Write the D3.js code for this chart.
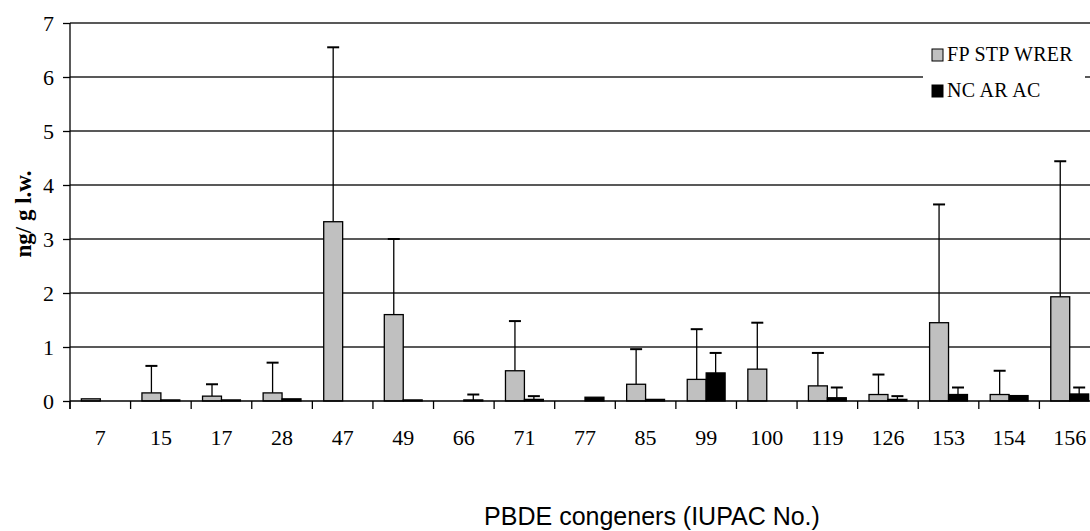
<!DOCTYPE html>
<html>
<head>
<meta charset="utf-8">
<script src="https://cdn.jsdelivr.net/npm/d3@7"></script>
<style>
body { margin: 0; background: #fff; }
svg { display: block; }
</style>
</head>
<body>
<svg id="chart" width="1090" height="531"></svg>
<script>
// 数据
var congeners = ["7","15","17","28","47","49","66","71","77","85","99","100","119","126","153","154","156"];
var seriesNames = ["FP STP WRER", "NC AR AC"];
var fpMean = [0.04, 0.15, 0.09, 0.15, 3.32, 1.60, 0, 0.56, 0, 0.31, 0.40, 0.59, 0.28, 0.12, 1.45, 0.12, 1.93];
var fpErr  = [null, 0.65, 0.31, 0.71, 6.55, 3.00, null, 1.48, null, 0.96, 1.33, 1.45, 0.89, 0.49, 3.64, 0.56, 4.44];
var ncMean = [0, 0.02, 0.02, 0.04, 0, 0.02, 0.02, 0.03, 0.07, 0.03, 0.52, 0, 0.06, 0.03, 0.12, 0.10, 0.13];
var ncErr  = [null, null, null, null, null, null, 0.12, 0.09, null, null, 0.89, null, 0.25, 0.09, 0.25, null, 0.25];
var yTicks = [0, 1, 2, 3, 4, 5, 6, 7];
var colors = ["#c0c0c0", "#000000"];

var serif = "'Liberation Serif', 'Times New Roman', serif";
var svg = d3.select("#chart");
var mLeft = 70, mRight = 1100, mTop = 23, mBottom = 401;

var x = d3.scaleBand().domain(congeners).range([mLeft, mRight]).padding(0);
var xs = d3.scaleBand().domain(seriesNames).range([0, x.bandwidth()]).paddingInner(0).paddingOuter(0.6);
var y = d3.scaleLinear().domain([0, 7]).range([mBottom, mTop]);

// 网格线
svg.append("g").selectAll("line").data(yTicks.filter(function(d) { return d > 0; })).enter().append("line")
	.attr("x1", mLeft).attr("x2", 1090)
	.attr("y1", function(d) { return y(d); }).attr("y2", function(d) { return y(d); })
	.attr("stroke", "#222").attr("stroke-width", 1.3);

// y 轴
var yAxis = svg.append("g").attr("transform", "translate(" + mLeft + ",0)")
	.attr("font-family", serif)
	.call(d3.axisLeft(y).tickValues(yTicks).tickSize(7).tickPadding(9).tickFormat(d3.format("d")));
yAxis.attr("font-family", serif).attr("font-size", 22);
yAxis.selectAll("path, line").attr("stroke", "#000").attr("stroke-width", 1.3);
yAxis.select(".domain").attr("d", "M0," + mTop + "V" + (mBottom + 8));
yAxis.selectAll(".tick text").style("font-family", serif).style("font-size", "22px").attr("fill", "#000").attr("dy", "0.36em");

// 数据整理
var rows = [];
congeners.forEach(function(c, i) {
	rows.push({c: c, s: seriesNames[0], v: fpMean[i], e: fpErr[i], k: 0});
	rows.push({c: c, s: seriesNames[1], v: ncMean[i], e: ncErr[i], k: 1});
});

// 误差线
var eb = svg.append("g").selectAll("g").data(rows.filter(function(d) { return d.e != null; })).enter().append("g");
eb.append("line")
	.attr("x1", function(d) { return x(d.c) + xs(d.s) + xs.bandwidth() / 2; })
	.attr("x2", function(d) { return x(d.c) + xs(d.s) + xs.bandwidth() / 2; })
	.attr("y1", function(d) { return y(d.v); }).attr("y2", function(d) { return y(d.e); })
	.attr("stroke", "#000").attr("stroke-width", 1.3);
eb.append("line")
	.attr("x1", function(d) { return x(d.c) + xs(d.s) + xs.bandwidth() / 2 - 6; })
	.attr("x2", function(d) { return x(d.c) + xs(d.s) + xs.bandwidth() / 2 + 6; })
	.attr("y1", function(d) { return y(d.e); }).attr("y2", function(d) { return y(d.e); })
	.attr("stroke", "#000").attr("stroke-width", 2);

// 柱子
svg.append("g").selectAll("rect").data(rows.filter(function(d) { return d.v > 0; })).enter().append("rect")
	.attr("x", function(d) { return x(d.c) + xs(d.s); })
	.attr("width", xs.bandwidth())
	.attr("y", function(d) { return y(d.v); })
	.attr("height", function(d) { return y(0) - y(d.v); })
	.attr("fill", function(d) { return colors[d.k]; })
	.attr("stroke", "#000").attr("stroke-width", 1.3);

// x 轴
var xAxis = svg.append("g").attr("transform", "translate(0," + mBottom + ")");
xAxis.append("line").attr("x1", mLeft).attr("x2", 1090).attr("stroke", "#000").attr("stroke-width", 1.5);
xAxis.selectAll(".xt").data(congeners).enter().append("line")
	.attr("x1", function(d) { return x(d); }).attr("x2", function(d) { return x(d); })
	.attr("y1", 0).attr("y2", 8).attr("stroke", "#000").attr("stroke-width", 1.3);
xAxis.selectAll("text").data(congeners).enter().append("text")
	.attr("x", function(d) { return x(d) + x.bandwidth() / 2; })
	.attr("y", 44)
	.attr("text-anchor", "middle")
	.style("font-family", serif).style("font-size", "22px")
	.text(function(d) { return d; });

// 轴标题
svg.append("text").attr("transform", "translate(31,214) rotate(-90)")
	.attr("text-anchor", "middle")
	.style("font-family", serif).style("font-size", "23px").style("font-weight", "bold")
	.text("ng/ g l.w.");
svg.append("text").attr("x", 652).attr("y", 525).attr("text-anchor", "middle")
	.style("font-family", "'Liberation Sans', Arial, sans-serif").style("font-size", "25px")
	.text("PBDE congeners (IUPAC No.)");

// 图例
var lg = svg.append("g");
lg.append("rect").attr("x", 923).attr("y", 32).attr("width", 162).attr("height", 78).attr("fill", "#fff");
seriesNames.forEach(function(s, i) {
	lg.append("rect").attr("x", 932).attr("y", 49 + i * 36).attr("width", 11).attr("height", 12)
		.attr("fill", colors[i]).attr("stroke", "#000").attr("stroke-width", 1);
	lg.append("text").attr("x", 947).attr("y", 61 + i * 36)
		.style("font-family", serif).style("font-size", "20px").style("letter-spacing", "0.3px")
		.text(s);
});
</script>
</body>
</html>
